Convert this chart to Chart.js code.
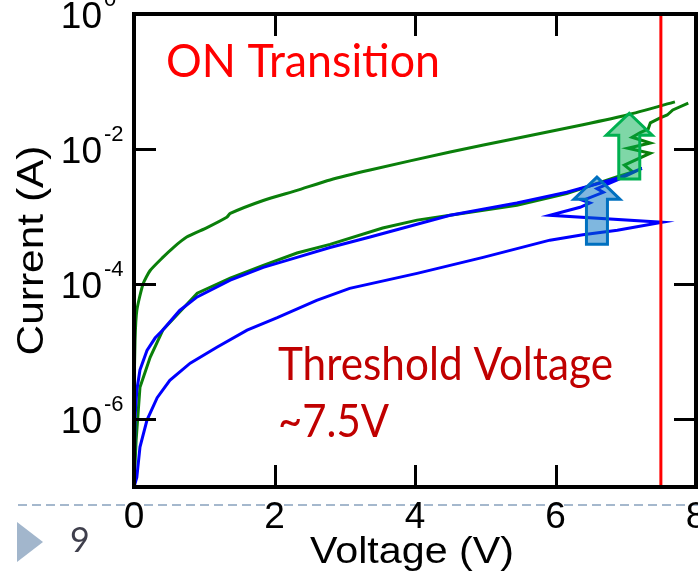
<!DOCTYPE html>
<html>
<head>
<meta charset="utf-8">
<script src="https://cdn.jsdelivr.net/npm/chart.js@4.4.0/dist/chart.umd.min.js"></script>
<style>
  html, body { margin: 0; padding: 0; background: #fff; }
  #wrap { width: 698px; height: 575px; position: relative; }
</style>
</head>
<body>
<div id="wrap"><canvas id="ivChart"></canvas></div>
<script>
// blue sweep: low branch up to 7.5 V, kick back, then high branch back to 0 V
const blueVoltage = [0, 0.04, 0.085, 0.185, 0.33, 0.51, 0.80, 1.18, 1.61, 2.04, 2.60, 3.07, 4.03, 4.97, 5.92, 6.39, 6.88, 7.52,
  5.92, 6.35, 6.49, 6.39, 6.68, 6.59, 6.88, 7.23,
  6.88, 6.16, 5.45, 4.50, 3.36, 2.79, 2.32, 1.84, 1.37, 0.90, 0.65, 0.41, 0.30, 0.185, 0.085, 0.04, 0.015, 0];
const blueCurrent = [1e-7, 1.38e-7, 3.9e-7, 9.8e-7, 2.1e-6, 3.8e-6, 6.8e-6, 1.17e-5, 2.1e-5, 3.2e-5, 5.8e-5, 8.7e-5, 1.45e-4, 2.5e-4, 4.5e-4, 5.4e-4, 6.3e-4, 8.3e-4,
  1.05e-3, 1.38e-3, 1.6e-3, 1.74e-3, 2.3e-3, 2.6e-3, 3.5e-3, 5.2e-3,
  3.7e-3, 2.3e-3, 1.6e-3, 1.05e-3, 5.0e-4, 3.5e-4, 2.5e-4, 1.78e-4, 1.15e-4, 6.5e-5, 4.1e-5, 2.1e-5, 1.6e-5, 1.05e-5, 5.4e-6, 2.7e-6, 1.07e-6, 1e-7];

// green sweep: middle branch then the zigzag up near 7 V
const greenVoltage = [0, 0.03, 0.085, 0.23, 0.41, 0.90, 1.37, 1.84, 2.32, 2.79, 3.54, 4.03, 4.50, 5.45, 6.16, 6.88, 7.10,
  6.98, 7.35, 7.03, 7.35, 7.09, 7.20, 7.32, 7.35, 7.49, 7.59, 7.67, 7.89];
const greenCurrent = [1e-7, 4.9e-7, 3.0e-6, 8.3e-6, 2.1e-5, 7.4e-5, 1.23e-4, 1.9e-4, 2.9e-4, 3.9e-4, 6.8e-4, 8.9e-4, 1.05e-3, 1.48e-3, 2.2e-3, 3.9e-3, 4.6e-3,
  5.8e-3, 8.7e-3, 1.03e-2, 1.23e-2, 1.5e-2, 1.74e-2, 2.0e-2, 2.45e-2, 2.9e-2, 3.2e-2, 3.8e-2, 4.8e-2];

// green return (ON state) from 7.7 V back to 0 V
const greenReturnVoltage = [7.70, 7.02, 6.39, 5.45, 4.50, 3.36, 2.79, 2.32, 1.84, 1.37, 1.32, 1.04, 0.75, 0.56, 0.41, 0.23, 0.13, 0.04, 0.015, 0, 0];
const greenReturnCurrent = [5.0e-2, 3.2e-2, 2.3e-2, 1.45e-2, 9.1e-3, 4.9e-3, 3.5e-3, 2.45e-3, 1.74e-3, 1.12e-3, 9.8e-4, 6.9e-4, 5.0e-4, 3.5e-4, 2.5e-4, 1.6e-4, 1.02e-4, 4.1e-5, 1.5e-5, 1.9e-6, 1e-7];

const thresholdVoltage = 7.5;
const xTicks = [0, 2, 4, 6, 8];
const yTickExponents = [0, -2, -4, -6];

// arrows: voltage of the shaft centre, tip current, tail current
const arrowVoltage = [7.05, 6.59];
const arrowTip = [3.4e-2, 3.85e-3];
const arrowTail = [3.6e-3, 3.9e-4];

const Y_MIN = 1e-7, Y_MAX = 1;
const AXIS_FONT = '"Liberation Sans", Arial, sans-serif';
const NOTE_FONT = 'Lato, "Open Sans", sans-serif';

function toPoints(vs, is) {
  return vs.map((v, i) => ({ x: v, y: is[i] }));
}

// the slide text is a little wider than the stock fonts, so squeeze/stretch to width
function fitText(ctx, text, x, y, width, angle) {
  const w = ctx.measureText(text).width;
  ctx.save();
  ctx.translate(x, y);
  if (angle) ctx.rotate(angle);
  ctx.scale(width / w, 1);
  ctx.fillText(text, 0, 0);
  ctx.restore();
}

function drawArrow(ctx, cx, tipY, tailY, fill, stroke) {
  const headW = 23, shaftW = 10.5, headH = 22;
  ctx.beginPath();
  ctx.moveTo(cx, tipY);
  ctx.lineTo(cx + headW, tipY + headH);
  ctx.lineTo(cx + shaftW, tipY + headH);
  ctx.lineTo(cx + shaftW, tailY);
  ctx.lineTo(cx - shaftW, tailY);
  ctx.lineTo(cx - shaftW, tipY + headH);
  ctx.lineTo(cx - headW, tipY + headH);
  ctx.closePath();
  ctx.fillStyle = fill;
  ctx.fill();
  ctx.lineWidth = 3;
  ctx.strokeStyle = stroke;
  ctx.lineJoin = 'miter';
  ctx.stroke();
}

const slidePlugin = {
  id: 'slideStuff',
  beforeDraw(chart) {
    const ctx = chart.ctx;
    ctx.save();
    ctx.fillStyle = '#fff';
    ctx.fillRect(0, 0, chart.width, chart.height);
    // slide footer
    ctx.strokeStyle = '#a5b8cd';
    ctx.lineWidth = 2;
    ctx.setLineDash([9, 5]);
    ctx.beginPath();
    ctx.moveTo(18, 505);
    ctx.lineTo(chart.width, 505);
    ctx.stroke();
    ctx.setLineDash([]);
    ctx.fillStyle = '#a2b6cc';
    ctx.beginPath();
    ctx.moveTo(17, 522);
    ctx.lineTo(43, 542);
    ctx.lineTo(17, 562);
    ctx.closePath();
    ctx.fill();
    ctx.fillStyle = '#3f3f4c';
    ctx.font = '34px ' + NOTE_FONT;
    ctx.textAlign = 'left';
    ctx.textBaseline = 'alphabetic';
    ctx.fillText('9', 70, 552);
    ctx.restore();
  },
  afterDatasetsDraw(chart) {
    const ctx = chart.ctx;
    const a = chart.chartArea;
    const xs = chart.scales.x, ys = chart.scales.y;
    ctx.save();

    // arrows
    const arrowFill = ['rgba(0,176,80,0.5)', 'rgba(0,112,192,0.5)'];
    const arrowLine = ['#00b050', '#0070c0'];
    arrowVoltage.forEach((v, i) => {
      drawArrow(ctx, xs.getPixelForValue(v), ys.getPixelForValue(arrowTip[i]),
        ys.getPixelForValue(arrowTail[i]), arrowFill[i], arrowLine[i]);
    });

    // frame
    ctx.strokeStyle = '#000';
    ctx.lineWidth = 4;
    ctx.strokeRect(a.left, a.top, a.right - a.left, a.bottom - a.top);

    // inward ticks
    ctx.lineWidth = 3;
    ctx.beginPath();
    xTicks.slice(1, -1).forEach(t => {
      const px = Math.round(xs.getPixelForValue(t)) + 0.5;
      ctx.moveTo(px, a.bottom); ctx.lineTo(px, a.bottom - 22);
      ctx.moveTo(px, a.top); ctx.lineTo(px, a.top + 22);
    });
    yTickExponents.slice(1).forEach(e => {
      const py = Math.round(ys.getPixelForValue(Math.pow(10, e))) + 0.5;
      ctx.moveTo(a.left, py); ctx.lineTo(a.left + 22, py);
      ctx.moveTo(a.right, py); ctx.lineTo(a.right - 22, py);
    });
    ctx.stroke();

    // tick labels
    ctx.fillStyle = '#000';
    ctx.textBaseline = 'alphabetic';
    ctx.font = '37px ' + AXIS_FONT;
    ctx.textAlign = 'center';
    xTicks.forEach(t => {
      ctx.fillText(String(t), xs.getPixelForValue(t), a.bottom + 41);
    });
    yTickExponents.forEach(e => {
      const py = ys.getPixelForValue(Math.pow(10, e));
      ctx.font = '37px ' + AXIS_FONT;
      ctx.textAlign = 'right';
      ctx.fillText('10', a.left - 32, py + 14);
      ctx.font = '22px ' + AXIS_FONT;
      ctx.textAlign = 'left';
      ctx.fillText(e === 0 ? '0' : '-' + Math.abs(e), a.left - 30, py - 8);
    });

    // axis titles
    ctx.font = '37px ' + AXIS_FONT;
    ctx.textAlign = 'center';
    fitText(ctx, 'Voltage (V)', (a.left + a.right) / 2 - 3, a.bottom + 76, 204, 0);
    fitText(ctx, 'Current (A)', 43, (a.top + a.bottom) / 2, 210, -Math.PI / 2);

    // notes
    ctx.textAlign = 'left';
    ctx.fillStyle = '#ff0000';
    ctx.font = '46px ' + NOTE_FONT;
    fitText(ctx, 'ON Transition', a.left + 32, a.top + 63, 274, 0);
    ctx.fillStyle = '#c00000';
    fitText(ctx, 'Threshold Voltage', a.left + 144, a.top + 366, 335, 0);
    fitText(ctx, '~7.5V', a.left + 144, a.top + 423, 111, 0);
    ctx.restore();
  }
};

const lineStyle = { showLine: true, pointRadius: 0, borderWidth: 3, tension: 0, fill: false };

const ivChart = new Chart(document.getElementById('ivChart'), {
  type: 'scatter',
  data: {
    datasets: [
      Object.assign({}, lineStyle, { label: 'Threshold', borderColor: '#ff0000',
        data: [{ x: thresholdVoltage, y: Y_MIN }, { x: thresholdVoltage, y: Y_MAX }] }),
      Object.assign({}, lineStyle, { label: 'Blue sweep', borderColor: '#0000ff',
        data: toPoints(blueVoltage, blueCurrent) }),
      Object.assign({}, lineStyle, { label: 'Green sweep', borderColor: '#0a7f0a',
        data: toPoints(greenVoltage, greenCurrent) }),
      Object.assign({}, lineStyle, { label: 'Green return', borderColor: '#0a7f0a', tension: 0.2,
        data: toPoints(greenReturnVoltage, greenReturnCurrent) })
    ]
  },
  options: {
    responsive: true,
    maintainAspectRatio: false,
    animation: false,
    devicePixelRatio: 1,
    layout: { padding: { left: 0, top: 14, right: 2, bottom: 0 } },
    plugins: { legend: { display: false }, tooltip: { enabled: false } },
    scales: {
      x: {
        type: 'linear', min: 0, max: 8,
        grid: { display: false }, border: { display: false },
        ticks: { display: false },
        afterFit(scale) { scale.height = 88; }
      },
      y: {
        type: 'logarithmic', min: Y_MIN, max: Y_MAX,
        grid: { display: false }, border: { display: false },
        ticks: { display: false },
        afterFit(scale) { scale.width = 134; }
      }
    }
  },
  plugins: [slidePlugin]
});
</script>
</body>
</html>
